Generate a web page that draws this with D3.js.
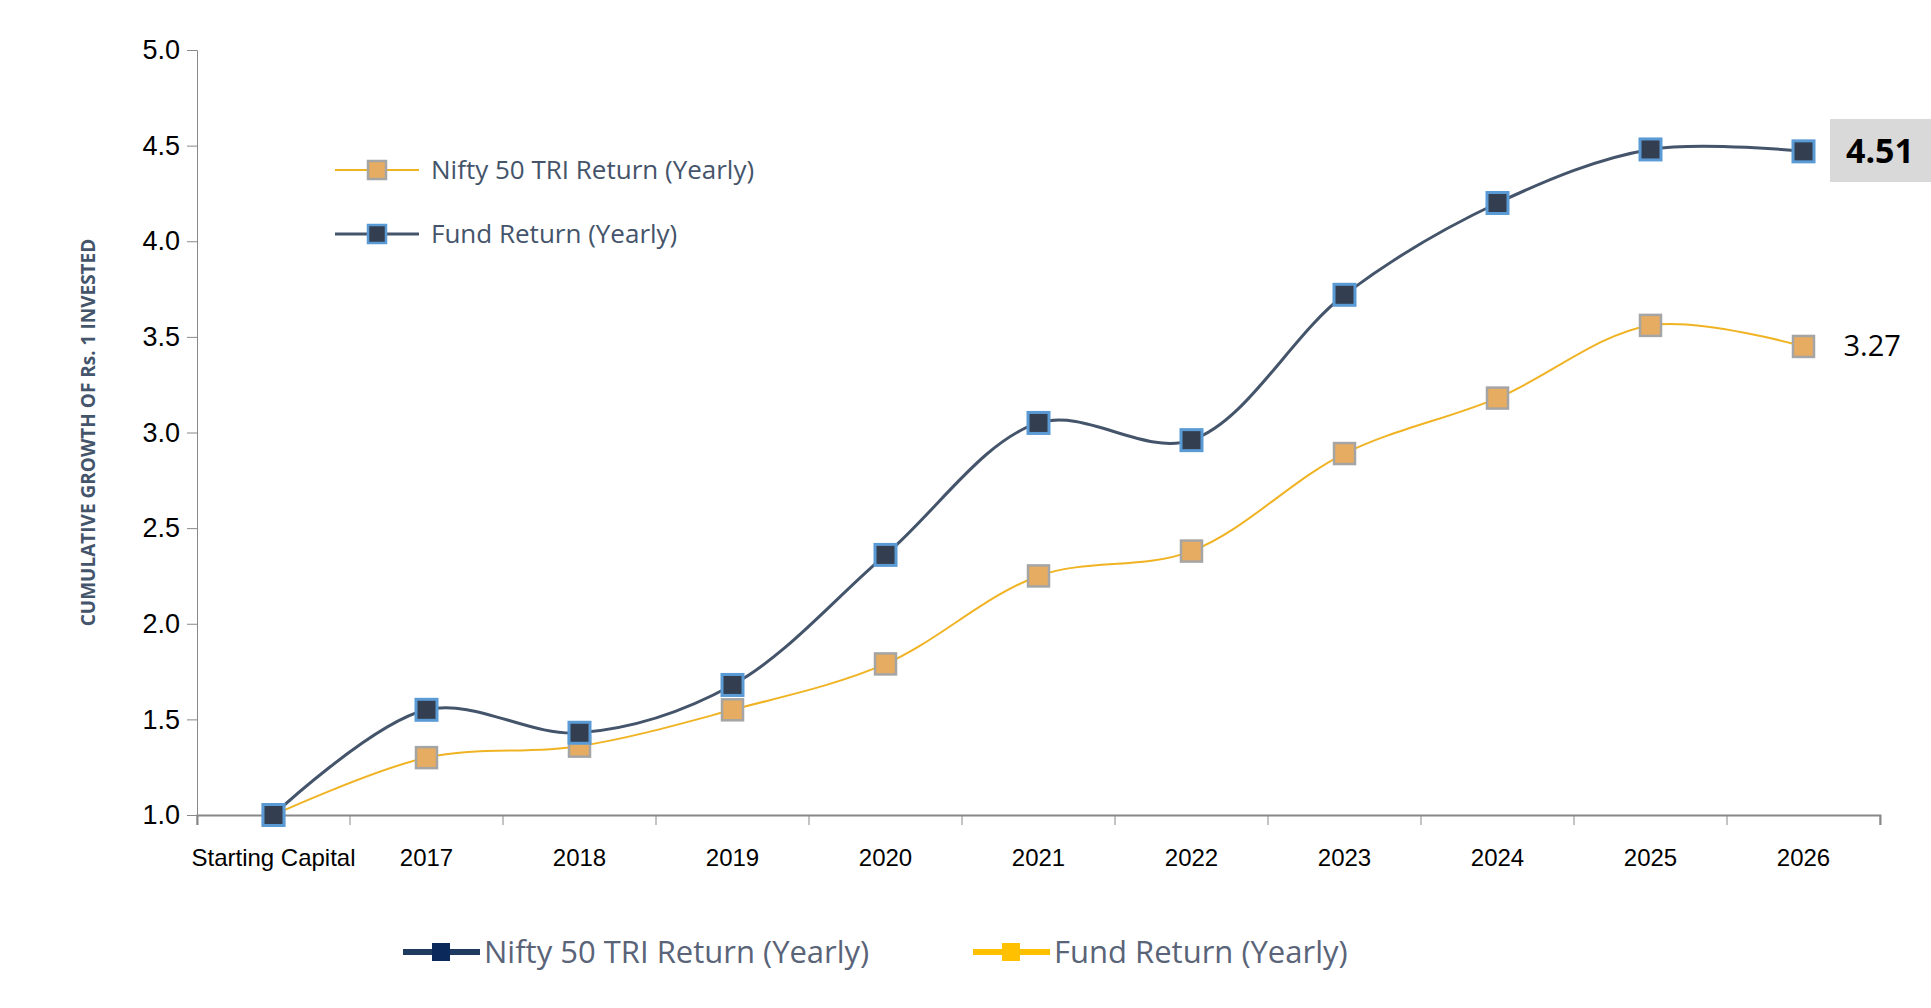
<!DOCTYPE html>
<html><head><meta charset="utf-8">
<script src="https://cdn.jsdelivr.net/npm/d3@7"></script>
<style>body{margin:0;background:#fff;font-family:"Open Sans","Noto Sans",sans-serif}</style>
</head><body><svg id="chart" width="1931" height="1008"></svg>
<script>
const categories = ["Starting Capital","2017","2018","2019","2020","2021","2022","2023","2024","2025","2026"];
const fundValues = [1.0,1.55,1.43,1.68,2.36,3.05,2.96,3.72,4.20,4.48,4.47];
const niftyValues = [1.0,1.30,1.36,1.55,1.79,2.25,2.38,2.89,3.18,3.56,3.45];
const yTicks = [1.0,1.5,2.0,2.5,3.0,3.5,4.0,4.5,5.0];
const fundLabel = "4.51", niftyLabel = "3.27";

const svg = d3.select("#chart");
const pLeft = 197, pRight = 1880, pTop = 50, pBottom = 815;
const x = d3.scaleBand().domain(categories).range([pLeft, pRight]);
const y = d3.scaleLinear().domain([1, 5]).range([pBottom, pTop]);
const cx = d => x(d) + x.bandwidth() / 2;

// axes
const yAxis = svg.append("g").attr("transform", `translate(${pLeft},0)`)
  .call(d3.axisLeft(y).tickValues(yTicks).tickFormat(d3.format(".1f")).tickSize(10));
yAxis.select(".domain").attr("stroke", "#888");
yAxis.selectAll(".tick line").attr("stroke", "#888");
yAxis.selectAll("text").attr("font-size", 27).attr("fill", "#000").attr("dx", -4);

const xAxis = svg.append("g").attr("transform", `translate(0,${pBottom})`)
  .call(d3.axisBottom(x).tickSize(10).tickSizeOuter(10));
xAxis.select(".domain").attr("stroke", "#888").attr("stroke-width", 2);
xAxis.selectAll(".tick line").attr("stroke", "#888").attr("transform", `translate(${-x.bandwidth()/2},0)`);
xAxis.append("line").attr("x1", pRight).attr("x2", pRight).attr("y1", 0).attr("y2", 10).attr("stroke", "#888");
xAxis.selectAll("text").attr("font-size", 24).attr("fill", "#000").attr("dy", "1.6em");

svg.append("text").attr("transform", `translate(95,${(pTop+pBottom)/2}) rotate(-90)`)
  .attr("text-anchor", "middle").attr("font-size", 19).attr("font-weight", "bold")
  .attr("fill", "#44546a").text("CUMULATIVE GROWTH OF Rs. 1 INVESTED");

// lines
const line = d3.line().x((d, i) => cx(categories[i])).y(d => y(d)).curve(d3.curveCatmullRom.alpha(0.5));
svg.append("path").attr("d", line(niftyValues)).attr("fill", "none").attr("stroke", "#f0b323").attr("stroke-width", 2);
svg.append("path").attr("d", line(fundValues)).attr("fill", "none").attr("stroke", "#44546a").attr("stroke-width", 3);

const ms = 21;
svg.selectAll(".mn").data(niftyValues).enter().append("rect")
  .attr("x", (d, i) => cx(categories[i]) - ms/2).attr("y", d => y(d) - ms/2)
  .attr("width", ms).attr("height", ms).attr("fill", "#e6ac61").attr("stroke", "#a5a5a5").attr("stroke-width", 2.5);
svg.selectAll(".mf").data(fundValues).enter().append("rect")
  .attr("x", (d, i) => cx(categories[i]) - ms/2).attr("y", d => y(d) - ms/2)
  .attr("width", ms).attr("height", ms).attr("fill", "#333f50").attr("stroke", "#5b9bd5").attr("stroke-width", 3);

// end labels
const last = categories[categories.length - 1];
svg.append("rect").attr("x", 1830).attr("y", 119).attr("width", 101).attr("height", 63).attr("fill", "#d9d9d9");
svg.append("text").attr("x", 1880).attr("y", y(fundValues[10]) + 12).attr("text-anchor", "middle")
  .attr("font-size", 34).attr("font-weight", "bold").text(fundLabel);
svg.append("text").attr("x", cx(last) + 40).attr("y", y(niftyValues[10]) + 10)
  .attr("font-size", 29).text(niftyLabel);

// in-chart legend
const inLeg = [
  {label: "Nifty 50 TRI Return (Yearly)", stroke: "#f0b323", fill: "#e6ac61", ms: "#a5a5a5", y: 170, w: 2},
  {label: "Fund Return (Yearly)", stroke: "#44546a", fill: "#333f50", ms: "#5b9bd5", y: 234, w: 3}
];
const g1 = svg.selectAll(".il").data(inLeg).enter().append("g");
g1.append("line").attr("x1", 335).attr("x2", 419).attr("y1", d => d.y).attr("y2", d => d.y)
  .attr("stroke", d => d.stroke).attr("stroke-width", d => d.w);
g1.append("rect").attr("x", 368).attr("y", d => d.y - 9).attr("width", 18).attr("height", 18)
  .attr("fill", d => d.fill).attr("stroke", d => d.ms).attr("stroke-width", 2.5);
g1.append("text").attr("x", 431).attr("y", d => d.y + 9).attr("font-size", 26).attr("fill", "#44546a").text(d => d.label);

// bottom legend
const botLeg = [
  {label: "Nifty 50 TRI Return (Yearly)", c: "#1f3a5f", m: "#0b2a5b", x: 403},
  {label: "Fund Return (Yearly)", c: "#ffc000", m: "#ffc000", x: 973}
];
const g2 = svg.selectAll(".bl").data(botLeg).enter().append("g");
g2.append("line").attr("x1", d => d.x).attr("x2", d => d.x + 77).attr("y1", 952).attr("y2", 952)
  .attr("stroke", d => d.c).attr("stroke-width", 6);
g2.append("rect").attr("x", d => d.x + 29).attr("y", 943).attr("width", 18).attr("height", 18).attr("fill", d => d.m);
g2.append("text").attr("x", d => d.x + 81).attr("y", 963).attr("font-size", 31).attr("fill", "#5a6478").text(d => d.label);
</script></body></html>
